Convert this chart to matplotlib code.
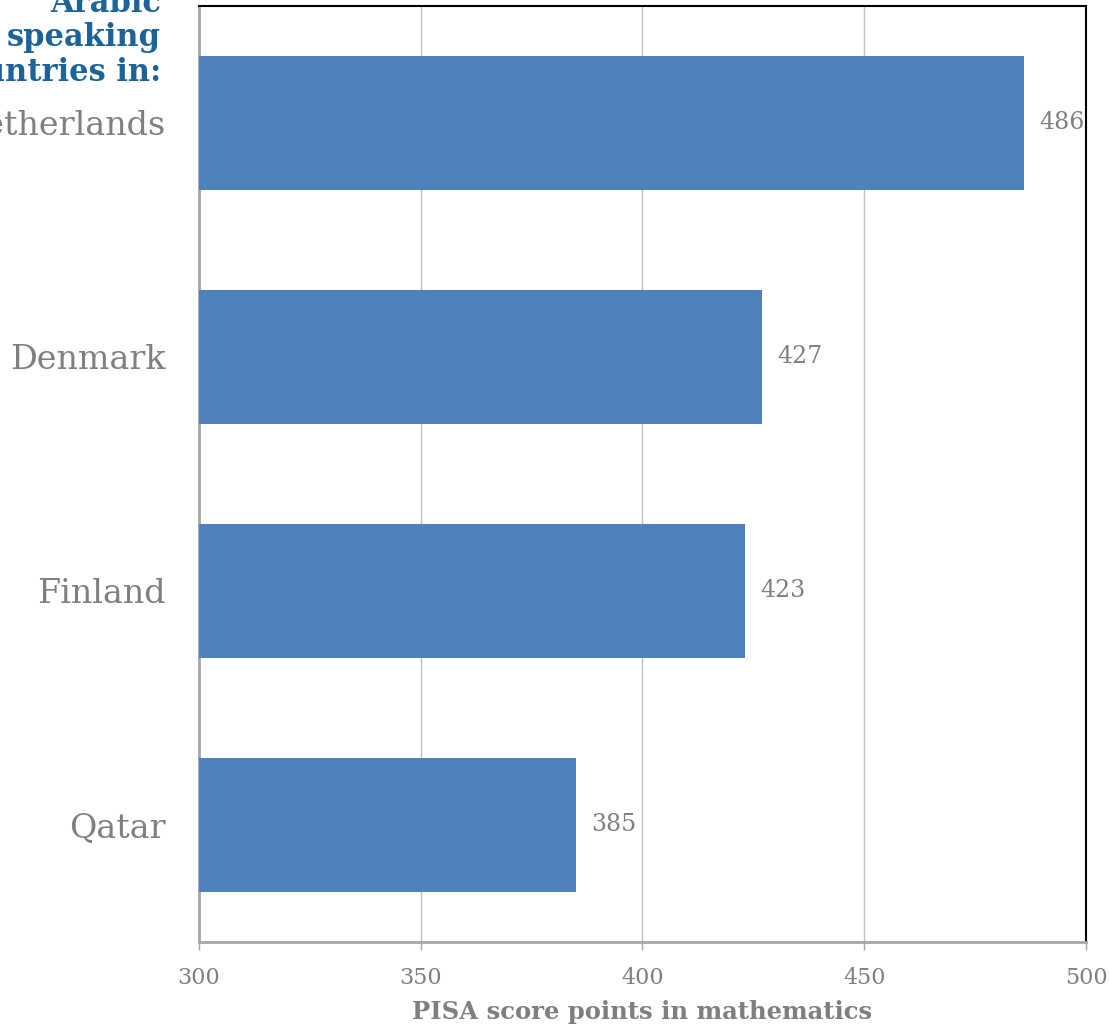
import matplotlib.pyplot as plt

countries = ["Qatar", "Finland", "Denmark", "Netherlands"]
scores = [385, 423, 427, 486]
x_ticks = [300, 350, 400, 450, 500]

bar_color = "#4F81BD"
grey = "#7F7F7F"
title_blue = "#1C6399"

plt.rcParams["font.family"] = ["DejaVu Serif"]

fig = plt.figure(figsize=(11.09, 10.27), dpi=100)
ax = fig.add_axes([0.1794, 0.0828, 0.7999, 0.9114])

pos = range(len(countries))
ax.barh(pos, scores, height=0.57, color=bar_color, zorder=3, left=0)
ax.set_xlim(300, 500)
ax.set_ylim(-0.5, len(countries) - 0.5)

for y, v in zip(pos, scores):
    ax.annotate(str(v), xy=(v, y), xytext=(11, 0), textcoords="offset points",
                ha="left", va="center", fontsize=17, color=grey, zorder=4)

ax.set_xticks(x_ticks)
ax.set_xticklabels([str(t) for t in x_ticks], fontsize=16, color=grey)
ax.set_yticks(list(pos))
ax.set_yticklabels(countries, fontsize=24, color=grey)
ax.tick_params(axis="y", length=0, pad=24)
ax.tick_params(axis="x", length=6, width=1, color="#A6A6A6", pad=12)
ax.grid(axis="x", color="#BFBFBF", linewidth=1, zorder=0)

ax.spines["left"].set_color("#A6A6A6")
ax.spines["left"].set_linewidth(2)
ax.spines["bottom"].set_color("#A6A6A6")
ax.spines["bottom"].set_linewidth(2)
ax.spines["top"].set_color("black")
ax.spines["top"].set_linewidth(1.5)
ax.spines["right"].set_color("black")
ax.spines["right"].set_linewidth(1.5)

ax.set_xlabel("PISA score points in mathematics", fontsize=17.5, fontweight="bold",
              color=grey, labelpad=8)

fig.text(161 / 1109, 1 - 81 / 1027, "Arabic\nspeaking\ncountries in:", ha="right",
         va="baseline", fontsize=22, fontweight="bold", color=title_blue,
         linespacing=1.15)

fig.savefig("out.png", dpi=100)
